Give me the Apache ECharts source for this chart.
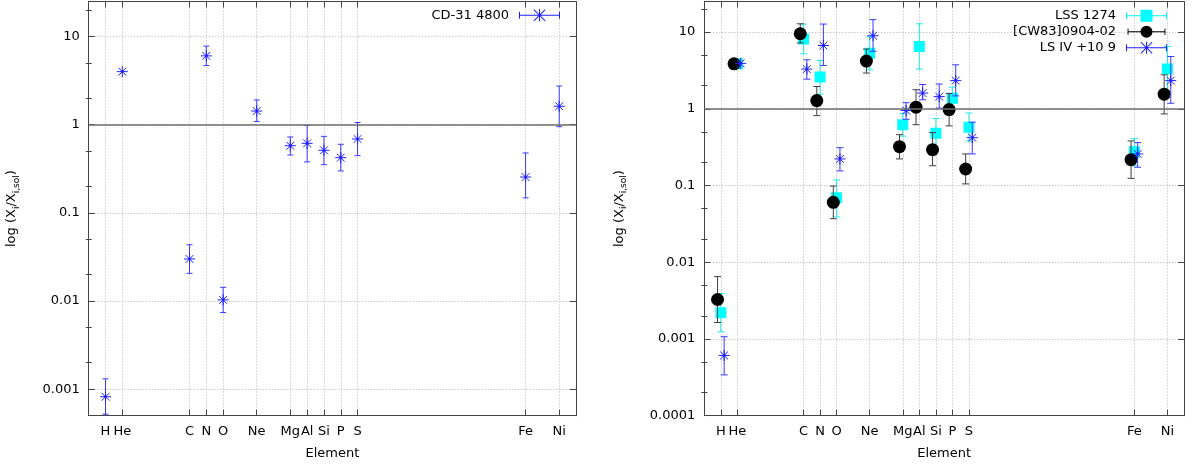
<!DOCTYPE html>
<html>
<head>
<meta charset="utf-8">
<script src="https://cdn.jsdelivr.net/npm/echarts@6/dist/echarts.min.js"></script>
<style>html,body{margin:0;padding:0;background:#fff;}#c{width:1200px;height:465px;}</style>
</head>
<body>
<div id="c"></div>
<script>
// ---- data ----
const elements = ['H','He','C','N','O','Ne','Mg','Al','Si','P','S','Fe','Ni'];
const atomicNumbers = [1,2,6,7,8,10,12,13,14,15,16,26,28];

const leftYTicks = [0.001, 0.01, 0.1, 1, 10];
const rightYTicks = [0.0001, 0.001, 0.01, 0.1, 1, 10];
const yTickLabels = ['0.0001','0.001','0.01','0.1','1','10'];
const leftMinorTicks = [0.002,0.005,0.02,0.05,0.2,0.5,2,5,20];
const rightMinorTicks = [0.0002,0.0005,0.002,0.005,0.02,0.05,0.2,0.5,2,5,20];

// CD-31 4800
const cd31Value = [0.00082, 4.0, 0.030, 6.04, 0.0103, 1.43, 0.578, 0.615, 0.513, 0.423, 0.689, 0.255, 1.62];
const cd31Low   = [0.00052, null, 0.0206, 4.69, 0.0074, 1.09, 0.453, 0.378, 0.352, 0.299, 0.446, 0.148, 0.95];
const cd31High  = [0.00131, null, 0.0435, 7.8, 0.0143, 1.91, 0.726, 0.98, 0.738, 0.60, 1.06, 0.478, 2.75];

// LSS 1274
const lssValue = [0.0022, 3.85, 8.1, 2.59, 0.069, 5.3, 0.62, 6.49, 0.48, 1.37, 0.575, 0.276, 3.29];
const lssLow   = [0.00124, null, 5.2, 1.55, 0.039, 3.22, 0.44, 3.29, 0.31, 0.98, 0.38, 0.181, 1.7];
const lssHigh  = [0.0039, null, 12.7, 4.26, 0.118, 8.7, 0.87, 12.8, 0.745, 1.91, 0.88, 0.408, 6.5];

// [CW83]0904-02
const cw83Value = [0.00327, 3.85, 9.5, 1.28, 0.0604, 4.18, 0.321, 1.05, 0.293, 0.977, 0.164, 0.217, 1.55];
const cw83Low   = [0.00164, null, 7.2, 0.815, 0.0369, 2.92, 0.222, 0.62, 0.181, 0.598, 0.105, 0.124, 0.857];
const cw83High  = [0.0065, null, 12.8, 1.95, 0.0984, 6.0, 0.46, 1.77, 0.489, 1.58, 0.258, 0.381, 2.77];

// LS IV +10 9
const lsivValue = [0.00061, 3.9, 3.29, 6.68, 0.222, 8.95, 0.95, 1.6, 1.44, 2.33, 0.42, 0.258, 2.33];
const lsivLow   = [0.00034, null, 2.43, 3.66, 0.155, 5.6, 0.73, 1.31, 1.02, 1.47, 0.258, 0.173, 1.18];
const lsivHigh  = [0.00107, null, 4.35, 12.7, 0.311, 14.5, 1.2, 2.07, 2.1, 3.74, 0.668, 0.362, 4.8];

// ---- chart ----
const FONT = 'DejaVu Sans';
const BORDER = '#444';
const GRIDC = '#b0b0b0';

function build(offset, v, lo, hi) {
  return atomicNumbers.map((z, i) => [z + offset, v[i], lo[i] == null ? NaN : lo[i], hi[i] == null ? NaN : hi[i]]);
}

function makeRender(marker, markColor, barColor, capHalf) {
  return function (params, api) {
    const x = api.value(0), v = api.value(1), lo = api.value(2), hi = api.value(3);
    const p = api.coord([x, v]);
    const ch = [];
    if (isFinite(lo) && isFinite(hi)) {
      const pl = api.coord([x, lo]), ph = api.coord([x, hi]);
      const st = { stroke: barColor, lineWidth: 1 };
      ch.push({ type: 'line', shape: { x1: p[0], y1: pl[1], x2: p[0], y2: ph[1] }, style: st });
      ch.push({ type: 'line', shape: { x1: p[0] - capHalf, y1: pl[1], x2: p[0] + capHalf, y2: pl[1] }, style: st });
      ch.push({ type: 'line', shape: { x1: p[0] - capHalf, y1: ph[1], x2: p[0] + capHalf, y2: ph[1] }, style: st });
    }
    if (marker === 'star') {
      const r = 5.5, d = 3.9;
      const st = { stroke: markColor, lineWidth: 1 };
      ch.push({ type: 'line', shape: { x1: p[0] - r, y1: p[1], x2: p[0] + r, y2: p[1] }, style: st });
      ch.push({ type: 'line', shape: { x1: p[0], y1: p[1] - r, x2: p[0], y2: p[1] + r }, style: st });
      ch.push({ type: 'line', shape: { x1: p[0] - d, y1: p[1] - d, x2: p[0] + d, y2: p[1] + d }, style: st });
      ch.push({ type: 'line', shape: { x1: p[0] - d, y1: p[1] + d, x2: p[0] + d, y2: p[1] - d }, style: st });
      ch.push({ type: 'circle', shape: { cx: p[0], cy: p[1], r: 1.3 }, style: { fill: markColor } });
    } else if (marker === 'square') {
      ch.push({ type: 'rect', shape: { x: p[0] - 5.5, y: p[1] - 5.5, width: 11, height: 11 }, style: { fill: markColor } });
    } else {
      ch.push({ type: 'circle', shape: { cx: p[0], cy: p[1], r: 6.5 }, style: { fill: markColor } });
    }
    return { type: 'group', children: ch };
  };
}

const STAR_ICON = 'path://M0,5.5H41V6.5H0Z M0,2.5H1V9.5H0Z M40,2.5H41V9.5H40Z M20,0H21V12H20Z M14.5,0.7L15.2,0L26.5,11.3L25.8,12Z M25.8,0L26.5,0.7L15.2,12L14.5,11.3Z';
const SQUARE_ICON = 'path://M0,5.5H14.5V6.5H0Z M26.5,5.5H41V6.5H26.5Z M0,2.5H1V9.5H0Z M40,2.5H41V9.5H40Z M14.5,0H26.5V12H14.5Z';
const CIRCLE_ICON = 'path://M0,5.5H14.5V6.5H0Z M26.5,5.5H41V6.5H26.5Z M0,2.5H1V9.5H0Z M40,2.5H41V9.5H40Z M27,6A6.5,6.5,0,1,1,14,6A6.5,6.5,0,1,1,27,6Z';

function tickLabel(v) {
  for (let i = 0; i < rightYTicks.length; i++) {
    if (Math.abs(Math.log10(v) - Math.log10(rightYTicks[i])) < 1e-6) return yTickLabels[i];
  }
  return '';
}

function xAxes(g) {
  return [
    {
      type: 'value', gridIndex: g, min: 0, max: 29, position: 'bottom',
      axisLine: { show: true, onZero: false, lineStyle: { color: BORDER, width: 1 } },
      axisTick: { show: true, inside: true, length: 6, customValues: atomicNumbers, lineStyle: { color: BORDER } },
      axisLabel: { customValues: atomicNumbers, margin: 9, color: '#000', fontSize: 13, fontFamily: FONT,
        formatter: v => { const k = atomicNumbers.indexOf(Math.round(v)); return k >= 0 ? elements[k] : ''; } },
      splitLine: { show: true, lineStyle: { color: GRIDC, type: [1, 2], width: 1 } },
      name: 'Element', nameLocation: 'middle', nameGap: 31,
      nameTextStyle: { color: '#000', fontSize: 13, fontFamily: FONT }
    },
    {
      type: 'value', gridIndex: g, min: 0, max: 29, position: 'top',
      axisLine: { show: true, onZero: false, lineStyle: { color: BORDER, width: 1 } },
      axisTick: { show: true, inside: true, length: 6, customValues: atomicNumbers, lineStyle: { color: BORDER } },
      axisLabel: { show: false }, splitLine: { show: false }
    }
  ];
}

function yAxes(g, min, ticks, minor, gap) {
  const base = { type: 'log', logBase: 10, gridIndex: g, min: min, max: 25 };
  return [
    Object.assign({}, base, {
      position: 'left',
      axisLine: { show: true, onZero: false, lineStyle: { color: BORDER, width: 1 } },
      axisTick: { show: true, inside: true, length: 6, customValues: ticks, lineStyle: { color: BORDER } },
      axisLabel: { customValues: ticks, margin: 9, color: '#000', fontSize: 13, fontFamily: FONT, formatter: tickLabel },
      splitLine: { show: true, lineStyle: { color: GRIDC, type: [1, 2], width: 1 } },
      name: '{a|log (X}{b|i}{a|/X}{b|i,sol}{a|)}', nameLocation: 'middle', nameGap: gap, nameRotate: 90,
      nameTextStyle: { color: '#000', fontFamily: FONT, rich: {
        a: { fontSize: 13, fontFamily: FONT, color: '#000', lineHeight: 18 },
        b: { fontSize: 9, fontFamily: FONT, color: '#000', lineHeight: 18, verticalAlign: 'bottom' } } }
    }),
    Object.assign({}, base, {
      position: 'left', axisLine: { show: false },
      axisTick: { show: true, inside: true, length: 3, customValues: minor, lineStyle: { color: BORDER } },
      axisLabel: { show: false }, splitLine: { show: false }
    }),
    Object.assign({}, base, {
      position: 'right',
      axisLine: { show: true, onZero: false, lineStyle: { color: BORDER, width: 1 } },
      axisTick: { show: true, inside: true, length: 6, customValues: ticks, lineStyle: { color: BORDER } },
      axisLabel: { show: false }, splitLine: { show: false }
    }),
    Object.assign({}, base, {
      position: 'right', axisLine: { show: false },
      axisTick: { show: true, inside: true, length: 3, customValues: minor, lineStyle: { color: BORDER } },
      axisLabel: { show: false }, splitLine: { show: false }
    })
  ];
}

const oneLine = {
  silent: true, symbol: 'none', label: { show: false },
  lineStyle: { color: '#6e6e6e', width: 1.5, type: 'solid' },
  data: [{ yAxis: 1 }]
};

const legendText = { color: '#000', fontSize: 13, fontFamily: FONT, lineHeight: 16, padding: [0, 5, 0, 0] };

const option = {
  animation: false,
  backgroundColor: '#fff',
  grid: [
    { left: 88.7, right: 624, top: 1.5, bottom: 49.3 },
    { left: 704.3, right: 16, top: 1.5, bottom: 49.3 }
  ],
  xAxis: [].concat(xAxes(0), xAxes(1)),
  yAxis: [].concat(
    yAxes(0, 0.0005, leftYTicks, leftMinorTicks, 68),
    yAxes(1, 0.0001, rightYTicks, rightMinorTicks, 76)
  ),
  legend: [
    {
      orient: 'vertical', align: 'right', right: 640, top: 7.3, padding: 0, itemGap: 0,
      itemWidth: 41, itemHeight: 12, textStyle: legendText, selectedMode: false,
      data: [{ name: 'CD-31 4800', icon: STAR_ICON, itemStyle: { color: '#1f1fff' } }]
    },
    {
      orient: 'vertical', align: 'right', right: 33, top: 7.7, padding: 0, itemGap: 0,
      itemWidth: 41, itemHeight: 12, textStyle: legendText, selectedMode: false,
      data: [
        { name: 'LSS 1274', icon: SQUARE_ICON, itemStyle: { color: '#00ffff' } },
        { name: '[CW83]0904-02', icon: CIRCLE_ICON, itemStyle: { color: '#000000' } },
        { name: 'LS IV +10 9', icon: STAR_ICON, itemStyle: { color: '#1f1fff' } }
      ]
    }
  ],
  series: [
    {
      name: 'CD-31 4800', type: 'custom', xAxisIndex: 0, yAxisIndex: 0, clip: true,
      itemStyle: { color: '#1f1fff' },
      encode: { x: 0, y: 1 },
      renderItem: makeRender('star', '#1f1fff', '#3a3aff', 3),
      data: build(0, cd31Value, cd31Low, cd31High),
      markLine: oneLine
    },
    {
      name: 'LSS 1274', type: 'custom', xAxisIndex: 2, yAxisIndex: 4, clip: true,
      itemStyle: { color: '#00ffff' },
      encode: { x: 0, y: 1 },
      renderItem: makeRender('square', '#00ffff', '#22e8e8', 3.5),
      data: build(0, lssValue, lssLow, lssHigh),
      markLine: oneLine
    },
    {
      name: '[CW83]0904-02', type: 'custom', xAxisIndex: 2, yAxisIndex: 4, clip: true,
      itemStyle: { color: '#000000' },
      encode: { x: 0, y: 1 },
      renderItem: makeRender('circle', '#000000', '#404040', 3.5),
      data: build(-0.2, cw83Value, cw83Low, cw83High)
    },
    {
      name: 'LS IV +10 9', type: 'custom', xAxisIndex: 2, yAxisIndex: 4, clip: true,
      itemStyle: { color: '#1f1fff' },
      encode: { x: 0, y: 1 },
      renderItem: makeRender('star', '#1f1fff', '#3a3aff', 3.5),
      data: build(0.2, lsivValue, lsivLow, lsivHigh)
    }
  ]
};

const chart = echarts.init(document.getElementById('c'), null, { renderer: 'canvas' });
chart.setOption(option);
</script>
</body>
</html>
